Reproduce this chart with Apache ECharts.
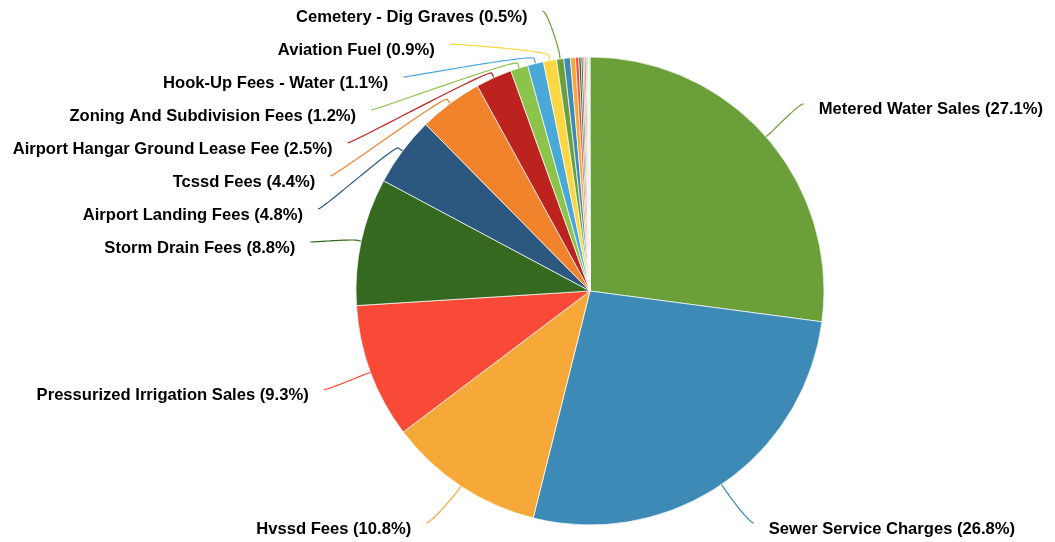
<!DOCTYPE html>
<html>
<head>
<meta charset="utf-8">
<title>Revenue by Source</title>
<script src="https://cdn.jsdelivr.net/npm/echarts@6/dist/echarts.min.js"></script>
<style>
  html, body { margin: 0; padding: 0; background: #ffffff; }
  #chart { width: 1055px; height: 542px; }
</style>
</head>
<body>
<div id="chart"></div>
<script>
// Revenue sources, largest first (share of total revenue, %)
const categories = [
  'Metered Water Sales',
  'Sewer Service Charges',
  'Hvssd Fees',
  'Pressurized Irrigation Sales',
  'Storm Drain Fees',
  'Airport Landing Fees',
  'Tcssd Fees',
  'Airport Hangar Ground Lease Fee',
  'Zoning And Subdivision Fees',
  'Hook-Up Fees - Water',
  'Aviation Fuel',
  'Cemetery - Dig Graves',
  'Other Charges 1', 'Other Charges 2', 'Other Charges 3', 'Other Charges 4',
  'Other Charges 5', 'Other Charges 6', 'Other Charges 7', 'Other Charges 8',
  'Other Charges 9', 'Other Charges 10', 'Other Charges 11', 'Other Charges 12'
];
const values = [
  27.1, 26.8, 10.8, 9.3, 8.8, 4.8, 4.4, 2.5, 1.2, 1.1, 0.9, 0.5,
  0.45, 0.35, 0.22, 0.16, 0.13, 0.11, 0.09, 0.08, 0.07, 0.06, 0.04, 0.03
];
// Only the larger sources carry a label
const labeledCount = 12;

const palette = [
  '#6a9f3a', '#3d8ab6', '#f6a938', '#f84a37', '#356920', '#2c5880',
  '#f1832d', '#bc231f', '#8cc44b', '#4aa8d9', '#fdd643'
];

// Pie geometry
const CX = 590, CY = 291, RADIUS = 234;
const LABEL_RADIUS = 284;   // circle the label anchors sit on
const SLOT = 33;            // vertical spacing of stacked labels
const TOP_LIMIT = 11, BOTTOM_LIMIT = 523;
const TEXT_GAP = 15, TEXT_DY = 6;
const BREAK_OFFSET = 5;

const total = values.reduce((a, b) => a + b, 0);
let acc = 0;
const midAngles = values.map(v => {
  const a0 = acc / total * Math.PI * 2;
  acc += v;
  const a1 = acc / total * Math.PI * 2;
  return (a0 + a1) / 2;   // clockwise from 12 o'clock
});
const polar = (theta, r) => [CX + r * Math.sin(theta), CY - r * Math.cos(theta)];

// Anchor positions: natural height on the label circle, then stacked per side
const anchors = [];
for (let i = 0; i < labeledCount; i++) {
  const th = midAngles[i];
  anchors.push({ i, left: Math.sin(th) < 0, y: CY - LABEL_RADIUS * Math.cos(th) });
}
[true, false].forEach(side => {
  const list = anchors.filter(a => a.left === side).sort((a, b) => a.y - b.y);
  for (let k = list.length - 1; k >= 0; k--) {
    const limit = k === list.length - 1 ? BOTTOM_LIMIT : list[k + 1].y - SLOT;
    list[k].y = Math.min(list[k].y, limit);
  }
  for (let k = 0; k < list.length; k++) {
    const limit = k === 0 ? TOP_LIMIT : list[k - 1].y + SLOT;
    list[k].y = Math.max(list[k].y, limit);
  }
});

function cubicPoint(p0, p1, p2, p3, t) {
  const u = 1 - t;
  return [
    u * u * u * p0[0] + 3 * u * u * t * p1[0] + 3 * u * t * t * p2[0] + t * t * t * p3[0],
    u * u * u * p0[1] + 3 * u * u * t * p1[1] + 3 * u * t * t * p2[1] + t * t * t * p3[1]
  ];
}

// Label placement and soft connector for each labelled slice
const placement = {};
anchors.forEach(a => {
  const th = midAngles[a.i];
  const dir = a.left ? -1 : 1;
  const dy = a.y - CY;
  const dx = Math.sqrt(Math.max(0, LABEL_RADIUS * LABEL_RADIUS - dy * dy));
  const anchor = [CX + dir * dx, a.y];
  const touch = polar(th, RADIUS);
  const brk = polar(th, RADIUS + BREAK_OFFSET);
  const ctrl1 = [anchor[0] - dir * 5, anchor[1]];
  const ctrl2 = [2 * brk[0] - touch[0], 2 * brk[1] - touch[1]];
  const pts = [touch];
  const steps = 24;
  for (let s = steps; s >= 0; s--) {
    pts.push(cubicPoint(anchor, ctrl1, ctrl2, brk, s / steps));
  }
  placement[a.i] = {
    x: anchor[0] + dir * TEXT_GAP,
    y: anchor[1] + TEXT_DY,
    align: a.left ? 'right' : 'left',
    points: pts
  };
});

const seriesData = categories.map((name, i) => {
  const item = {
    name,
    value: values[i],
    itemStyle: { color: palette[i % palette.length] }
  };
  if (i >= labeledCount) {
    item.label = { show: false };
    item.labelLine = { show: false };
  }
  return item;
});

const chart = echarts.init(document.getElementById('chart'), null, { renderer: 'canvas' });
chart.setOption({
  animation: false,
  backgroundColor: '#ffffff',
  series: [{
    type: 'pie',
    center: [CX, CY],
    radius: RADIUS,
    startAngle: 90,
    clockwise: true,
    avoidLabelOverlap: false,
    data: seriesData,
    itemStyle: { borderColor: '#ffffff', borderWidth: 0.7 },
    label: {
      show: true,
      position: 'outside',
      color: '#000000',
      fontFamily: '"Liberation Sans", Arial, Helvetica, sans-serif',
      fontWeight: 'bold',
      fontSize: 16.6,
      formatter: p => `${p.name} (${p.percent.toFixed(1)}%)`
    },
    labelLine: {
      show: true,
      smooth: false,
      length: 10,
      length2: 20,
      lineStyle: { width: 1.2 }
    },
    labelLayout: params => {
      const p = placement[params.dataIndex];
      if (!p) return {};
      return {
        x: p.x,
        y: p.y,
        align: p.align,
        verticalAlign: 'middle',
        labelLinePoints: p.points
      };
    },
    emphasis: { disabled: true }
  }]
});
</script>
</body>
</html>
